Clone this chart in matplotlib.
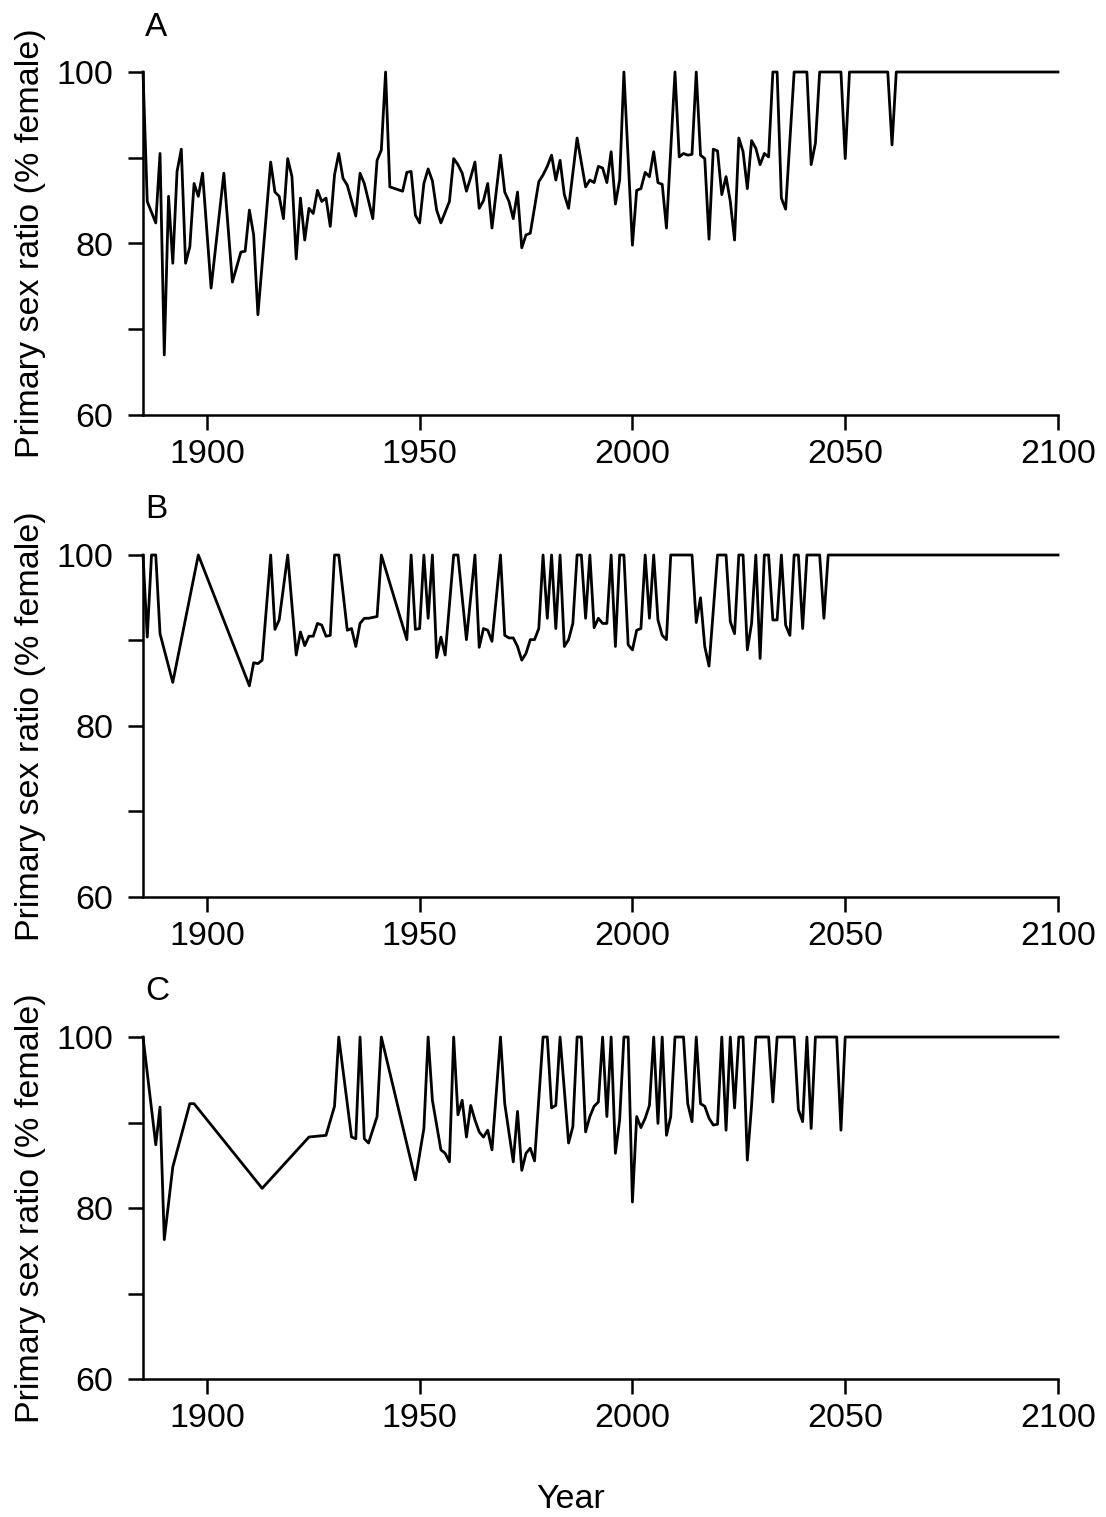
import matplotlib
matplotlib.use("Agg")
import matplotlib.pyplot as plt
from matplotlib.ticker import FixedLocator

plt.rcParams['font.family'] = ['Liberation Sans', 'DejaVu Sans']

years_a = [1885, 1886, 1888, 1889, 1890, 1891, 1892, 1893, 1894, 1895, 1896, 1897, 1898, 1899,
           1901, 1904, 1906, 1908, 1909, 1910, 1911, 1912, 1915, 1916, 1917, 1918, 1919, 1920,
           1921, 1922, 1923, 1924, 1925, 1926, 1927, 1928, 1929, 1930, 1931, 1932, 1933, 1935,
           1936, 1937, 1939, 1940, 1941, 1942, 1943, 1946, 1947, 1948, 1949, 1950, 1951, 1952,
           1953, 1954, 1955, 1957, 1958, 1959, 1960, 1961, 1962, 1963, 1964, 1965, 1966, 1967,
           1969, 1970, 1971, 1972, 1973, 1974, 1975, 1976, 1978, 1979, 1980, 1981, 1982, 1983,
           1984, 1985, 1987, 1989, 1990, 1991, 1992, 1993, 1994, 1995, 1996, 1997, 1998, 2000,
           2001, 2002, 2003, 2004, 2005, 2006, 2007, 2008, 2010, 2011, 2012, 2013, 2014, 2015,
           2016, 2017, 2018, 2019, 2020, 2021, 2022, 2023, 2024, 2025, 2026, 2027, 2028, 2029,
           2030, 2031, 2032, 2033, 2034, 2035, 2036, 2038, 2041, 2042, 2043, 2044, 2049, 2050,
           2051, 2060, 2061, 2062, 2100]
ratio_a = [100, 84.9, 82.4, 90.5, 67.0, 85.5, 77.7, 88.4, 91.0, 77.7, 79.6, 87.0, 85.5, 88.2,
           74.8, 88.2, 75.5, 79.0, 79.1, 83.9, 81.0, 71.7, 89.5, 86.0, 85.5, 82.9, 89.9, 87.8,
           78.2, 85.3, 80.4, 84.1, 83.5, 86.2, 84.9, 85.3, 82.0, 88.0, 90.5, 87.6, 86.8, 83.2,
           88.2, 87.0, 82.9, 89.7, 90.9, 100, 86.6, 86.1, 88.3, 88.4, 83.3, 82.4, 87.0, 88.7,
           87.3, 83.9, 82.4, 84.9, 89.9, 89.2, 88.2, 86.1, 87.7, 89.5, 84.1, 85.0, 87.0, 81.8,
           90.3, 86.0, 84.9, 82.9, 86.0, 79.5, 81.0, 81.2, 87.2, 88.0, 89.0, 90.3, 87.4, 89.7,
           85.7, 84.1, 92.3, 86.6, 87.4, 87.1, 89.0, 88.8, 87.1, 90.7, 84.6, 87.4, 100, 79.8,
           86.2, 86.4, 88.3, 87.8, 90.7, 87.1, 86.9, 81.8, 100, 90.1, 90.5, 90.3, 90.4, 100,
           90.3, 89.9, 80.5, 91.0, 90.8, 85.7, 87.8, 84.9, 80.4, 92.3, 90.7, 86.4, 92.0, 91.1,
           89.2, 90.5, 90.1, 100, 100, 85.3, 84.0, 100, 100, 89.2, 91.7, 100, 100, 89.9,
           100, 100, 91.5, 100, 100]

years_b = [1885, 1886, 1887, 1888, 1889, 1892, 1898, 1910, 1911, 1912, 1913, 1915, 1916, 1917,
           1919, 1921, 1922, 1923, 1924, 1925, 1926, 1927, 1928, 1929, 1930, 1931, 1933, 1934,
           1935, 1936, 1937, 1938, 1940, 1941, 1947, 1948, 1949, 1950, 1951, 1952, 1953, 1954,
           1955, 1956, 1958, 1959, 1961, 1963, 1964, 1965, 1966, 1967, 1969, 1970, 1971, 1972,
           1973, 1974, 1975, 1976, 1977, 1978, 1979, 1980, 1981, 1982, 1983, 1984, 1985, 1986,
           1987, 1988, 1989, 1990, 1991, 1992, 1993, 1994, 1995, 1996, 1997, 1998, 1999, 2000,
           2001, 2002, 2003, 2004, 2005, 2006, 2007, 2008, 2009, 2014, 2015, 2016, 2017, 2018,
           2020, 2022, 2023, 2024, 2025, 2026, 2027, 2028, 2029, 2030, 2031, 2032, 2033, 2034,
           2035, 2036, 2037, 2038, 2039, 2040, 2041, 2044, 2045, 2046, 2100]
ratio_b = [100, 90.4, 100, 100, 90.8, 85.1, 100, 84.7, 87.4, 87.3, 87.7, 100, 91.3, 92.4,
           100, 88.3, 91.0, 89.4, 90.5, 90.5, 92.0, 91.8, 90.5, 90.6, 100, 100, 91.2, 91.4,
           89.3, 92.0, 92.6, 92.6, 92.8, 100, 90.1, 100, 91.3, 91.4, 100, 92.6, 100, 88.0,
           90.4, 88.3, 100, 100, 90.1, 100, 89.2, 91.4, 91.2, 89.9, 100, 90.6, 90.3, 90.3,
           89.3, 87.7, 88.5, 90.1, 90.1, 91.4, 100, 92.6, 100, 91.4, 100, 89.3, 90.1, 92.0,
           100, 100, 92.6, 100, 91.5, 92.6, 92.0, 92.0, 100, 89.3, 100, 100, 89.5, 88.9,
           91.2, 91.4, 100, 92.6, 100, 92.4, 90.6, 90.1, 100, 100, 92.1, 95.0, 89.3, 87.0,
           100, 100, 92.2, 90.8, 100, 100, 88.9, 92.0, 100, 87.9, 100, 100, 92.4, 92.4,
           100, 91.8, 90.6, 100, 100, 91.4, 100, 100, 92.6, 100, 100]

years_c = [1885, 1888, 1889, 1890, 1892, 1896, 1897, 1913, 1924, 1928, 1930, 1931, 1934, 1935,
           1936, 1937, 1938, 1940, 1941, 1949, 1951, 1952, 1953, 1955, 1956, 1957, 1958, 1959,
           1960, 1961, 1962, 1963, 1964, 1965, 1966, 1967, 1969, 1970, 1972, 1973, 1974, 1975,
           1976, 1977, 1979, 1980, 1981, 1982, 1983, 1985, 1986, 1987, 1988, 1989, 1990, 1991,
           1992, 1993, 1994, 1995, 1996, 1997, 1998, 1999, 2000, 2001, 2002, 2003, 2004, 2005,
           2006, 2007, 2008, 2009, 2010, 2012, 2013, 2014, 2015, 2016, 2017, 2018, 2019, 2020,
           2021, 2022, 2023, 2024, 2025, 2026, 2027, 2028, 2029, 2032, 2033, 2034, 2038, 2039,
           2040, 2041, 2042, 2043, 2048, 2049, 2050, 2100]
ratio_c = [100, 87.4, 91.8, 76.3, 84.8, 92.2, 92.2, 82.3, 88.3, 88.5, 91.9, 100, 88.3, 88.1,
           100, 88.1, 87.6, 90.7, 100, 83.3, 89.3, 100, 92.6, 86.8, 86.4, 85.4, 100, 90.9,
           92.6, 88.3, 92.0, 90.3, 88.9, 88.3, 89.1, 86.8, 100, 92.2, 85.4, 91.3, 84.4, 86.4,
           87.0, 85.5, 100, 100, 91.7, 92.0, 100, 87.6, 89.5, 100, 100, 88.9, 90.7, 91.9,
           92.4, 100, 90.7, 100, 86.4, 90.3, 100, 100, 80.7, 90.7, 89.4, 90.5, 92.0, 100,
           89.9, 100, 88.5, 90.7, 100, 100, 92.2, 90.1, 100, 92.2, 91.9, 90.5, 89.7, 89.8,
           100, 89.1, 100, 91.7, 100, 100, 85.6, 92.0, 100, 100, 92.4, 100, 100, 91.5,
           90.1, 100, 89.3, 100, 100, 89.1, 100, 100]

panel_labels = ["A", "B", "C"]
x_ticks = [1900, 1950, 2000, 2050, 2100]
y_major = [60, 80, 100]
y_minor = [70, 90]

W, H = 1106, 1517
fig = plt.figure(figsize=(W / 100, H / 100), dpi=100)

left = 143 / W
width = (1058 - 143) / W
tops = [72, 555, 1037]
bottoms = [415, 897, 1379]

series = [(years_a, ratio_a), (years_b, ratio_b), (years_c, ratio_c)]
fs = 24.5
for i, (yrs, vals) in enumerate(series):
    t, b = tops[i], bottoms[i]
    ax = fig.add_axes([left, 1 - b / H, width, (b - t) / H])
    ax.plot(yrs, vals, color='black', lw=2.0, clip_on=False)
    ax.set_xlim(1885, 2100)
    ax.set_ylim(60, 100)
    for s in ['top', 'right']:
        ax.spines[s].set_visible(False)
    for s in ['left', 'bottom']:
        ax.spines[s].set_linewidth(1.8)
    ax.set_xticks(x_ticks)
    ax.set_xticklabels([str(v) for v in x_ticks])
    ax.yaxis.set_major_locator(FixedLocator(y_major))
    ax.yaxis.set_minor_locator(FixedLocator(y_minor))
    ax.set_yticklabels([str(v) for v in y_major])
    ax.tick_params(axis='both', which='both', direction='out', width=1.8, length=10.5,
                   labelsize=fs, colors='black')
    ax.tick_params(axis='y', which='major', pad=11)
    ax.tick_params(axis='x', which='major', pad=7)
    ax.set_ylabel("Primary sex ratio (% female)", fontsize=fs)
    ax.yaxis.set_label_coords(-(143 - 46) / (1058 - 143), 0.5)
    fig.text(145 / W, 1 - (t - 45) / H, panel_labels[i], fontsize=24, ha='left', va='center')

fig.text(571 / W, 1 - 1500 / H, "Year", fontsize=fs, ha='center', va='center')

fig.savefig("out.png", dpi=100)
